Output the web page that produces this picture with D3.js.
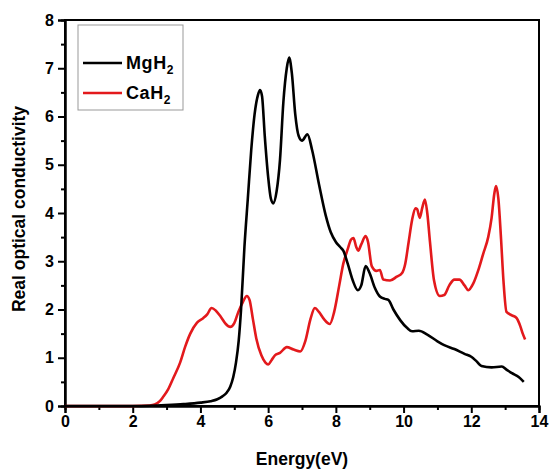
<!DOCTYPE html>
<html>
<head>
<meta charset="utf-8">
<script src="https://cdn.jsdelivr.net/npm/d3@7"></script>
<style>
  body { margin: 0; background: #fff; }
  svg text { font-family: Arial, "Liberation Sans", sans-serif; font-weight: bold; }
  .axis path, .axis line { stroke: #000; stroke-width: 2; }
  .axis text { font-size: 16px; fill: #000; }
  .line { fill: none; stroke-width: 2.6; stroke-linejoin: round; }
</style>
</head>
<body>
<div id="chart"></div>
<script>
// MgH2 (black)
var mgE = [0, 1, 2, 2.5, 3, 3.5, 4, 4.3, 4.5, 4.65, 4.78, 4.88, 4.97, 5.05, 5.13, 5.2, 5.3, 5.4, 5.5, 5.6, 5.7, 5.76, 5.82, 5.9, 6.0, 6.08, 6.15, 6.25, 6.35, 6.45, 6.55, 6.62, 6.7, 6.8, 6.9, 7.0, 7.16, 7.3, 7.5, 7.7, 7.85, 8.0, 8.12, 8.22, 8.35, 8.5, 8.65, 8.75, 8.88, 9.0, 9.15, 9.3, 9.45, 9.55, 9.7, 9.9, 10.1, 10.25, 10.45, 10.7, 11.0, 11.2, 11.5, 11.8, 12.0, 12.15, 12.3, 12.6, 12.9, 13.05, 13.2, 13.4, 13.55];
var mgVal = [0, 0, 0, 0.005, 0.02, 0.04, 0.07, 0.1, 0.14, 0.2, 0.28, 0.4, 0.6, 0.9, 1.35, 2.0, 3.3, 4.3, 5.3, 6.05, 6.45, 6.55, 6.42, 5.6, 4.75, 4.3, 4.2, 4.45, 5.1, 6.3, 7.0, 7.22, 6.9, 6.05, 5.6, 5.5, 5.63, 5.3, 4.6, 3.95, 3.6, 3.4, 3.3, 3.22, 2.95, 2.6, 2.4, 2.5, 2.9, 2.75, 2.45, 2.27, 2.22, 2.2, 2.0, 1.78, 1.62, 1.55, 1.56, 1.48, 1.34, 1.26, 1.18, 1.08, 1.02, 0.93, 0.83, 0.8, 0.82, 0.75, 0.68, 0.6, 0.5];

// CaH2 (red)
var caE = [0, 1, 2, 2.5, 2.65, 2.8, 2.9, 3.05, 3.2, 3.4, 3.55, 3.7, 3.9, 4.08, 4.2, 4.33, 4.45, 4.6, 4.75, 4.88, 5.0, 5.12, 5.25, 5.37, 5.45, 5.55, 5.65, 5.8, 5.92, 6.0, 6.1, 6.2, 6.35, 6.55, 6.75, 6.95, 7.1, 7.25, 7.38, 7.5, 7.65, 7.82, 7.95, 8.1, 8.22, 8.35, 8.45, 8.52, 8.6, 8.66, 8.75, 8.88, 8.95, 9.06, 9.2, 9.3, 9.4, 9.6, 9.8, 9.95, 10.05, 10.15, 10.25, 10.35, 10.4, 10.48, 10.55, 10.63, 10.7, 10.78, 10.9, 11.07, 11.2, 11.35, 11.5, 11.65, 11.8, 11.91, 12.06, 12.2, 12.35, 12.5, 12.6, 12.68, 12.73, 12.8, 12.88, 12.95, 13.04, 13.2, 13.34, 13.45, 13.52, 13.59];
var caVal = [0, 0, 0, 0.01, 0.03, 0.1, 0.19, 0.35, 0.58, 0.9, 1.23, 1.5, 1.73, 1.82, 1.9, 2.03, 1.98, 1.85, 1.7, 1.64, 1.72, 1.95, 2.15, 2.28, 2.2, 1.8, 1.4, 1.05, 0.9, 0.86, 0.95, 1.05, 1.1, 1.22, 1.17, 1.13, 1.35, 1.8, 2.03, 1.95, 1.8, 1.7, 1.95, 2.5, 2.95, 3.25, 3.45, 3.48, 3.3, 3.22, 3.35, 3.52, 3.4, 2.9, 2.8, 2.82, 2.62, 2.6, 2.68, 2.75, 2.95, 3.4, 3.85, 4.1, 4.08, 3.9, 4.1, 4.28, 4.0, 3.4, 2.6, 2.28, 2.3, 2.5, 2.62, 2.62, 2.5, 2.4, 2.54, 2.8, 3.15, 3.5, 3.9, 4.4, 4.56, 4.3, 3.45, 2.6, 1.95, 1.88, 1.82, 1.65, 1.5, 1.38];

var xTicks = [0, 2, 4, 6, 8, 10, 12, 14];
var yTicks = [0, 1, 2, 3, 4, 5, 6, 7, 8];
var seriesNames = ["MgH", "CaH"];
var seriesColors = ["#000000", "#e3191c"];

var margin = {top: 20, right: 16, bottom: 70, left: 65};
var width = 555 - margin.left - margin.right,
    height = 476 - margin.top - margin.bottom;

var svg = d3.select("#chart")
    .append("svg")
    .attr("width", width + margin.left + margin.right)
    .attr("height", height + margin.top + margin.bottom)
    .append("g")
    .attr("transform", "translate(" + margin.left + "," + margin.top + ")");

var xScale = d3.scaleLinear().domain([0, 14]).range([0, width]);
var yScale = d3.scaleLinear().domain([0, 8]).range([height, 0]);

// minor ticks first, major on top
svg.append("g")
    .attr("class", "x axis")
    .attr("transform", "translate(0," + height + ")")
    .call(d3.axisBottom(xScale).tickValues(d3.range(1, 14, 2)).tickSize(4).tickFormat(""));
svg.append("g")
    .attr("class", "y axis")
    .call(d3.axisLeft(yScale).tickValues(d3.range(0.5, 8, 1)).tickSize(4).tickFormat(""));

svg.append("g")
    .attr("class", "x axis")
    .attr("transform", "translate(0," + height + ")")
    .call(d3.axisBottom(xScale).tickValues(xTicks).tickSize(7).tickPadding(3).tickFormat(d3.format("d")));
svg.append("g")
    .attr("class", "y axis")
    .call(d3.axisLeft(yScale).tickValues(yTicks).tickSize(7).tickPadding(4).tickFormat(d3.format("d")));

// frame
svg.append("rect")
    .attr("width", width)
    .attr("height", height)
    .attr("fill", "none")
    .attr("stroke", "#000")
    .attr("stroke-width", 2);

var line = d3.line()
    .x(function(d) { return xScale(d[0]); })
    .y(function(d) { return yScale(d[1]); })
    .curve(d3.curveMonotoneX);

var caData = d3.zip(caE, caVal);
var mgData = d3.zip(mgE, mgVal);

svg.append("path")
    .datum(caData)
    .attr("class", "line")
    .attr("stroke", seriesColors[1])
    .attr("d", line);

svg.append("path")
    .datum(mgData)
    .attr("class", "line")
    .attr("stroke", seriesColors[0])
    .attr("d", line);

// axis titles
svg.append("text")
    .attr("x", width / 2)
    .attr("y", height + 59)
    .attr("text-anchor", "middle")
    .style("font-size", "17.5px")
    .text("Energy(eV)");

svg.append("text")
    .attr("transform", "translate(" + (-40) + "," + (height / 2 - 4) + ") rotate(-90)")
    .attr("text-anchor", "middle")
    .style("font-size", "17.5px")
    .text("Real optical conductivity");

// legend
var legend = svg.append("g")
    .attr("transform", "translate(13,5)");

legend.append("rect")
    .attr("width", 105)
    .attr("height", 85)
    .attr("fill", "#fff")
    .attr("stroke", "#999")
    .attr("stroke-width", 1);

seriesNames.forEach(function(name, i) {
    var yy = 38 + i * 30;
    legend.append("line")
        .attr("x1", 5).attr("x2", 44)
        .attr("y1", yy).attr("y2", yy)
        .attr("stroke", seriesColors[i])
        .attr("stroke-width", 2.6);
    var t = legend.append("text")
        .attr("x", 48)
        .attr("y", yy + 6)
        .style("font-size", "18px")
        .style("letter-spacing", "0.6px");
    t.append("tspan").text(name);
    t.append("tspan").attr("dy", 5).style("font-size", "12px").text("2");
});
</script>
</body>
</html>
